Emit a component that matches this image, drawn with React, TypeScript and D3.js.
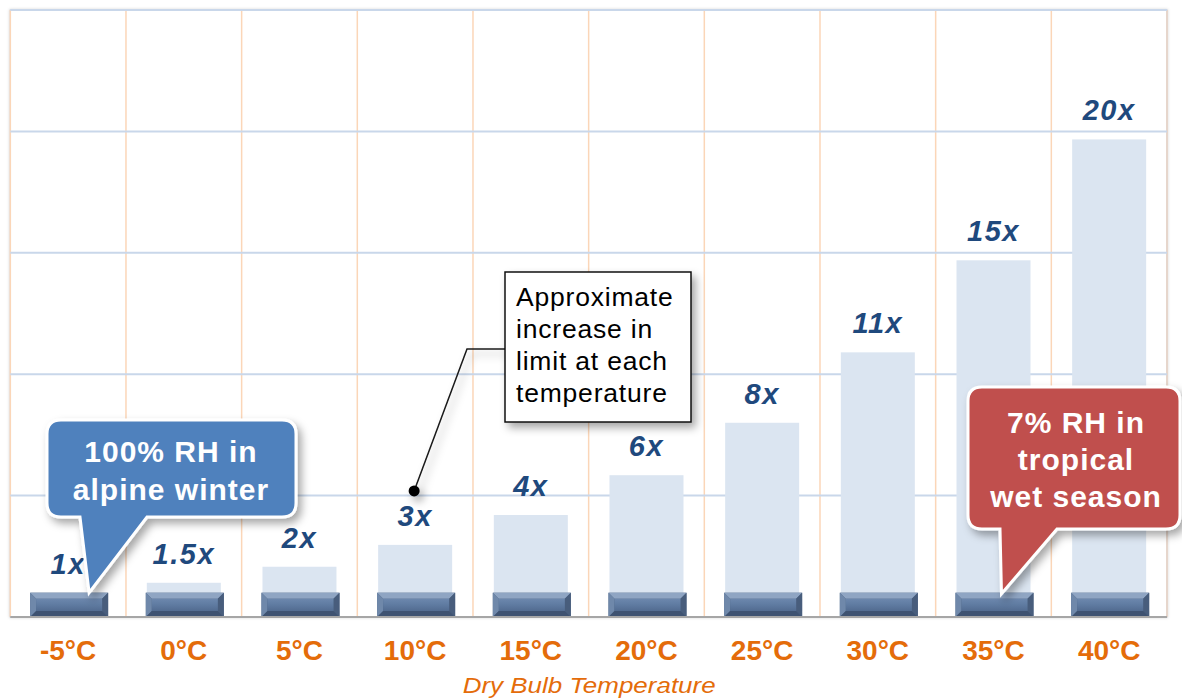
import React from "react";
import * as d3 from "d3";

const categories = ["-5°C", "0°C", "5°C", "10°C", "15°C", "20°C", "25°C", "30°C", "35°C", "40°C"];
const limitValues = [1.0, 1.41, 2.07, 2.97, 4.2, 5.84, 8.0, 10.9, 14.69, 19.67];
const baseValues = [1, 1, 1, 1, 1, 1, 1, 1, 1, 1];
const valueLabels = ["1x", "1.5x", "2x", "3x", "4x", "6x", "8x", "11x", "15x", "20x"];
const yTicks = [0, 5, 10, 15, 20, 25];
const axisTitle = "Dry Bulb Temperature";
const blueCallout = ["100% RH in", "alpine winter"];
const redCallout = ["7% RH in", "tropical", "wet season"];
const noteLines = ["Approximate", "increase in", "limit at each", "temperature"];

const W = 1182;
const H = 699;
const plot = { left: 10.3, right: 1167, top: 10, bottom: 617 };
const FONT = "Arial, 'Liberation Sans', sans-serif";

function calloutPath(l: number, r: number, t: number, b: number, rr: number, tl: number, tr: number, tipX: number, tipY: number) {
  return `M${l + rr},${t} H${r - rr} Q${r},${t} ${r},${t + rr} V${b - rr} Q${r},${b} ${r - rr},${b} H${tr} L${tipX},${tipY} L${tl},${b} H${l + rr} Q${l},${b} ${l},${b - rr} V${t + rr} Q${l},${t} ${l + rr},${t} Z`;
}

function Bevel({ x0, y0, w, h }: { x0: number; y0: number; w: number; h: number }) {
  const b = 6;
  const pts = (a: number[][]) => a.map((p) => p.join(",")).join(" ");
  return (
    <g>
      <rect x={x0} y={y0} width={w} height={h} fill="#4d6585" />
      <polygon points={pts([[x0, y0], [x0 + w, y0], [x0 + w - b, y0 + b], [x0 + b, y0 + b]])} fill="#8fa5c3" />
      <polygon points={pts([[x0, y0], [x0 + b, y0 + b], [x0 + b, y0 + h - b], [x0, y0 + h]])} fill="#6f88aa" />
      <polygon points={pts([[x0 + w, y0], [x0 + w, y0 + h], [x0 + w - b, y0 + h - b], [x0 + w - b, y0 + b]])} fill="#485d7c" />
      <polygon points={pts([[x0, y0 + h], [x0 + w, y0 + h], [x0 + w - b, y0 + h - b], [x0 + b, y0 + h - b]])} fill="#3e5271" />
      <rect x={x0 + b} y={y0 + b} width={w - 2 * b} height={h - 2 * b} fill="url(#bevelMid)" />
    </g>
  );
}

export default function App() {
  const x = d3.scaleBand<string>().domain(categories).range([plot.left, plot.right]).paddingInner(0).paddingOuter(0);
  const y = d3.scaleLinear().domain([0, 25]).range([plot.bottom, plot.top]);
  const step = x.step();
  const barW = 74;
  const darkW = 78;
  const cx = (c: string) => (x(c) as number) + step / 2;

  const blueTipX = cx(categories[0]) + 21;
  const blueTipY = y(baseValues[0]);
  const redTipX = cx(categories[8]) + 8;
  const redTipY = y(baseValues[8]) + 1;
  const dotX = cx(categories[3]) - 1;
  const dotY = y(limitValues[3]) - 54;

  return (
    <svg width={W} height={H} style={{ position: "absolute", left: 0, top: 0, background: "#fff" }} fontFamily={FONT}>
      <defs>
        <filter id="shadow" x="-20%" y="-20%" width="150%" height="150%">
          <feDropShadow dx="4" dy="5" stdDeviation="4" floodColor="#000" floodOpacity="0.35" />
        </filter>
        <filter id="frameShadow" x="-5%" y="-5%" width="110%" height="110%">
          <feDropShadow dx="0" dy="0" stdDeviation="1.5" floodColor="#000" floodOpacity="0.18" />
        </filter>
        <linearGradient id="bevelMid" x1="0" y1="0" x2="0" y2="1">
          <stop offset="0" stopColor="#6c87ad" />
          <stop offset="0.5" stopColor="#5f7ba1" />
          <stop offset="1" stopColor="#526b90" />
        </linearGradient>
      </defs>

      <rect x={plot.left} y={plot.top} width={plot.right - plot.left} height={plot.bottom - plot.top} fill="#fff" stroke="#d6d9de" strokeWidth={1.5} filter="url(#frameShadow)" />

      {categories.map((c) => (
        <line key={"v" + c} x1={x(c) as number} x2={x(c) as number} y1={plot.top} y2={plot.bottom} stroke="#fbd6b8" strokeWidth={1.5} />
      ))}
      <line x1={plot.right} x2={plot.right} y1={plot.top} y2={plot.bottom} stroke="#e6d6cc" strokeWidth={2} />

      {yTicks.map((t) => (
        <line key={"h" + t} x1={plot.left} x2={plot.right} y1={y(t)} y2={y(t)} stroke="#c9d7ea" strokeWidth={2} />
      ))}

      {categories.map((c, i) => (
        <rect key={"b" + c} x={cx(c) - barW / 2} y={y(limitValues[i])} width={barW} height={y(0) - y(limitValues[i])} fill="#dbe5f1" />
      ))}

      {categories.map((c, i) => (
        <Bevel key={"d" + c} x0={cx(c) - barW / 2 - 1} y0={y(baseValues[i])} w={darkW} h={y(0) - y(baseValues[i])} />
      ))}

      <line x1={plot.left} x2={plot.right} y1={plot.bottom} y2={plot.bottom} stroke="#a6a6a6" strokeWidth={2} />

      {categories.map((c, i) => (
        <text key={"l" + c} x={cx(c)} y={y(limitValues[i]) - 19} textAnchor="middle" fontSize={29} fontWeight="bold" fontStyle="italic" fill="#1f497d" letterSpacing={1.5}>
          {valueLabels[i]}
        </text>
      ))}

      {categories.map((c) => (
        <text key={"t" + c} x={cx(c)} y={660} textAnchor="middle" fontSize={28} fontWeight="bold" fill="#e46c0a">
          {c}
        </text>
      ))}
      <text x={(plot.left + plot.right) / 2 + 0.5} y={693} textAnchor="middle" fontSize={22} fontStyle="italic" fill="#e46c0a" textLength={253} lengthAdjust="spacingAndGlyphs">
        {axisTitle}
      </text>

      <g filter="url(#shadow)">
        <polyline points={`505,349 467,349 ${dotX},${dotY}`} fill="none" stroke="#1a1a1a" strokeWidth={1.5} />
        <circle cx={dotX} cy={dotY} r={5.5} fill="#000" />
        <rect x={505} y={272} width={186} height={150} fill="#fff" stroke="#111" strokeWidth={1.5} />
      </g>
      {noteLines.map((s, i) => (
        <text key={"n" + i} x={516} y={306 + i * 32} fontSize={26.5} fill="#000" letterSpacing={0.8}>
          {s}
        </text>
      ))}

      <path d={calloutPath(47, 296, 420, 517, 14, 80, 147, blueTipX, blueTipY)} fill="#4f81bd" stroke="#fff" strokeWidth={3} filter="url(#shadow)" />
      {blueCallout.map((s, i) => (
        <text key={"bc" + i} x={171} y={462 + i * 37.5} textAnchor="middle" fontSize={30} fontWeight="bold" fill="#fff" letterSpacing={1}>
          {s}
        </text>
      ))}

      <path d={calloutPath(968, 1180, 387, 529, 14, 1000, 1057, redTipX, redTipY)} fill="#c0504d" stroke="#fff" strokeWidth={3} filter="url(#shadow)" />
      {redCallout.map((s, i) => (
        <text key={"rc" + i} x={1076} y={433 + i * 37} textAnchor="middle" fontSize={30} fontWeight="bold" fill="#fff" letterSpacing={1}>
          {s}
        </text>
      ))}
    </svg>
  );
}
